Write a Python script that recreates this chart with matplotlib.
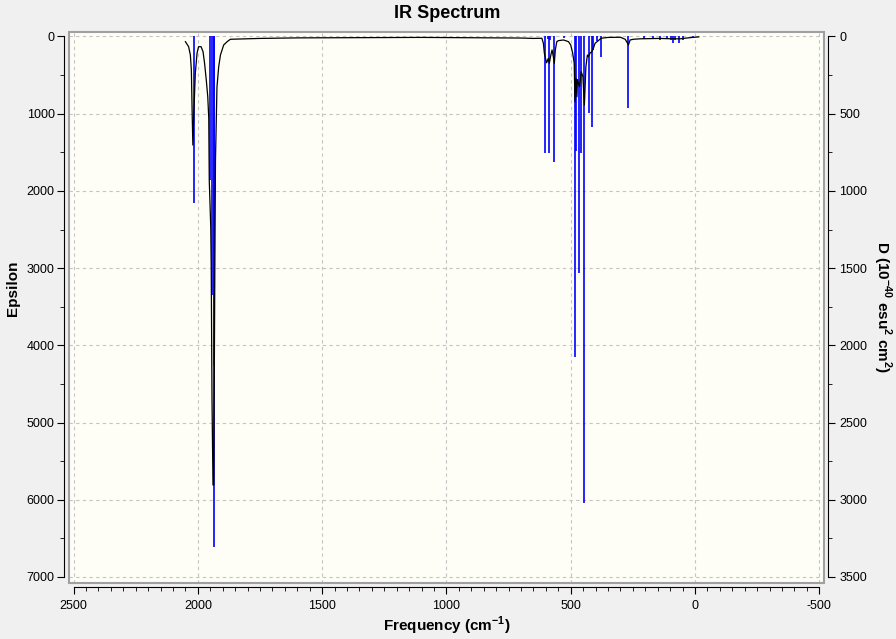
import matplotlib
matplotlib.use('Agg')
import matplotlib.pyplot as plt
from matplotlib.patches import Rectangle
from matplotlib.ticker import MultipleLocator

plt.rcParams['font.family'] = ['Liberation Sans', 'DejaVu Sans']
plt.rcParams['mathtext.fontset'] = 'custom'
plt.rcParams['mathtext.rm'] = 'Liberation Sans'
plt.rcParams['mathtext.bf'] = 'Liberation Sans:bold'
plt.rcParams['axes.unicode_minus'] = False

# computed sticks: frequency (cm-1) and D (1e-40 esu^2 cm^2)
stick_freq = [2017, 1952, 1943, 1936, 1935,
              602, 590, 586, 583, 566, 529,
              482, 477, 465, 457, 445, 427, 414, 409, 395, 380,
              268, 204, 168, 141, 114, 98, 90, 80, 63, 49, 9]
stick_d = [1080, 930, 1674, 3304, 2128,
           757, 15, 752, 20, 811, 10,
           2074, 740, 1530, 757, 3019, 497, 584, 87, 30, 131,
           461, 16, 12, 23, 12, 23, 40, 23, 40, 23, 10]

# broadened spectrum: frequency (cm-1) and epsilon
curve_freq = [2050, 2037, 2030, 2026, 2023, 2020, 2016, 2010, 2003, 1997,
              1987, 1979, 1973, 1966, 1960, 1956, 1954, 1948, 1946, 1943,
              1939, 1936, 1932, 1929, 1923, 1916, 1909, 1896, 1882, 1869,
              1750, 1600, 1100, 700, 651, 616, 610, 606, 600, 597,
              590, 586, 580, 575, 570, 566, 562, 556, 550, 529,
              509, 500, 492, 486, 483, 479, 475, 473, 469, 465,
              461, 458, 451, 445, 439, 433, 429, 422, 415, 409,
              402, 389, 378, 350, 300, 281, 272, 268, 261, 248,
              221, 141, 92, 60, 20, -15]
curve_eps = [67, 132, 240, 434, 952, 1406, 991, 473, 214, 132,
             132, 197, 343, 563, 780, 1056, 1859, 2468, 3022, 4682,
             5809, 5809, 3283, 1600, 654, 391, 240, 110, 67, 36,
             25, 18, 12, 20, 25, 23, 88, 218, 304, 340,
             283, 347, 240, 175, 261, 347, 175, 67, 54, 45,
             67, 110, 218, 347, 845, 540, 780, 560, 606, 650,
             560, 456, 520, 887, 391, 240, 261, 214, 197, 153,
             88, 54, 23, 12, 10, 36, 84, 110, 45, 36,
             30, 25, 30, 30, 15, 5]

fig = plt.figure(figsize=(8.96, 6.39), dpi=100, facecolor='#f0f0f0')
ax = fig.add_axes([0.0765, 0.0876, 0.8432, 0.8623])
ax2 = ax.twinx()
ax.set_zorder(2)
ax2.set_zorder(1)
ax.patch.set_visible(False)
ax2.patch.set_visible(True)
ax2.patch.set_facecolor('#fefef7')

ax2.vlines(stick_freq, 0, stick_d, color='#0000ff', lw=1.2)
ax.plot(curve_freq, curve_eps, color='black', lw=0.9)

ax.set_xlim(2520, -519)
ax.set_ylim(7079, -58)
ax2.set_ylim(7079 / 2, -29)

ax.xaxis.set_major_locator(MultipleLocator(500))
ax.xaxis.set_minor_locator(MultipleLocator(50))
ax.yaxis.set_major_locator(MultipleLocator(1000))
ax.yaxis.set_minor_locator(MultipleLocator(500))
ax2.yaxis.set_major_locator(MultipleLocator(500))
ax2.yaxis.set_minor_locator(MultipleLocator(250))

# grid sits under the sticks
ax2.xaxis.set_visible(True)
ax2.tick_params(axis='x', which='both', bottom=False, top=False,
                labelbottom=False, labeltop=False)
ax2.grid(True, which='major', color='#c4c4c4', ls=(0, (3, 3)), lw=0.8)

for s in ['top', 'right']:
    ax.spines[s].set_visible(False)
for s in ['top', 'left', 'bottom']:
    ax2.spines[s].set_visible(False)
ax.spines['left'].set_position(('outward', 3))
ax.spines['left'].set_bounds(0, 7000)
ax.spines['bottom'].set_position(('outward', 3))
ax.spines['bottom'].set_bounds(-500, 2500)
ax2.spines['right'].set_position(('outward', 3))
ax2.spines['right'].set_bounds(0, 3500)

ax.tick_params(axis='y', which='major', length=5, pad=2, labelsize=9)
ax.tick_params(axis='y', which='minor', length=3)
ax.tick_params(axis='x', which='major', length=5, pad=4, labelsize=9)
ax.tick_params(axis='x', which='minor', length=3)
ax2.tick_params(axis='y', which='major', length=5, pad=3, labelsize=9)
ax2.tick_params(axis='y', which='minor', length=3)

ax.add_patch(Rectangle((0, 0), 1, 1, transform=ax.transAxes, fill=False,
                       edgecolor='#a0a0a0', lw=1.5, clip_on=False, zorder=5))

fig.text(447 / 896, 1 - 14 / 639, 'IR Spectrum', ha='center', va='center',
         fontsize=13, fontweight='bold')
fig.text(13 / 896, 1 - 288 / 639, 'Epsilon', rotation=90, ha='center',
         va='center', fontsize=11, fontweight='bold')
fig.text(447 / 896, 1 - 626 / 639, r'Frequency (cm$^{\mathbf{-1}}$)',
         ha='center', va='center', fontsize=11, fontweight='bold')
fig.text(882 / 896, 1 - 307 / 639,
         r'D (10$^{\mathbf{-40}}$ esu$^{\mathbf{2}}$ cm$^{\mathbf{2}}$)',
         rotation=270, ha='center', va='center', fontsize=11, fontweight='bold')

fig.savefig('out.png', dpi=100, facecolor=fig.get_facecolor())
